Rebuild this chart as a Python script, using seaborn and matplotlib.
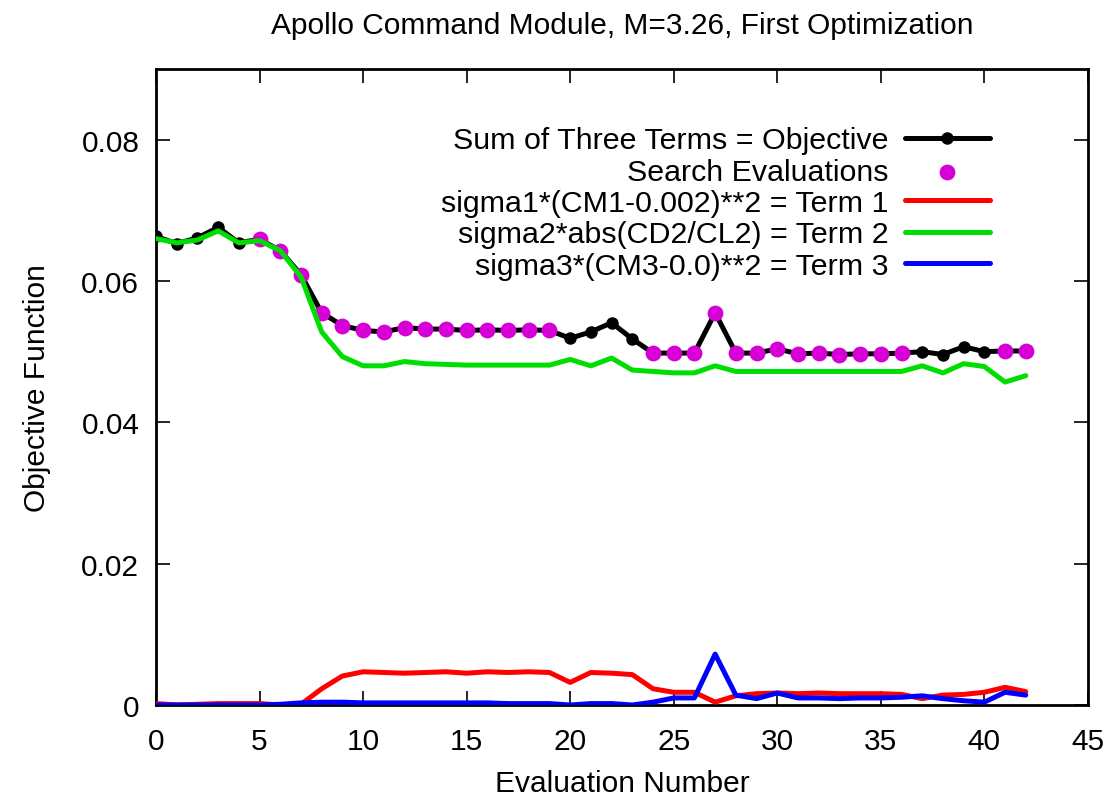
import matplotlib
matplotlib.use("Agg")
import matplotlib.pyplot as plt
import seaborn as sns
import pandas as pd

# values
evals = list(range(43))
objective = [0.0663, 0.0653, 0.0661, 0.0676, 0.0654, 0.0659, 0.0643, 0.0609, 0.0555, 0.0537,
             0.0530, 0.0528, 0.0534, 0.0532, 0.0532, 0.0530, 0.0531, 0.0530, 0.0531, 0.0530,
             0.0519, 0.0528, 0.0541, 0.0518, 0.0498, 0.0498, 0.0498, 0.0555, 0.0498, 0.0498,
             0.0504, 0.0497, 0.0498, 0.0496, 0.0497, 0.0497, 0.0498, 0.0500, 0.0496, 0.0507,
             0.0500, 0.0501, 0.0501]
term1 = [0.0002, 0.0000, 0.0001, 0.0002, 0.0002, 0.0002, 0.0000, 0.0001, 0.0023, 0.0041,
         0.0047, 0.0046, 0.0045, 0.0046, 0.0047, 0.0045, 0.0047, 0.0046, 0.0047, 0.0046,
         0.0032, 0.0046, 0.0045, 0.0043, 0.0023, 0.0018, 0.0018, 0.0004, 0.0013, 0.0016,
         0.0017, 0.0016, 0.0017, 0.0016, 0.0016, 0.0016, 0.0015, 0.0009, 0.0014, 0.0015,
         0.0018, 0.0025, 0.0019]
term2 = [0.0660, 0.0654, 0.0658, 0.0671, 0.0654, 0.0657, 0.0643, 0.0606, 0.0528, 0.0493,
         0.0480, 0.0480, 0.0486, 0.0483, 0.0482, 0.0481, 0.0481, 0.0481, 0.0481, 0.0481,
         0.0489, 0.0480, 0.0491, 0.0474, 0.0472, 0.0470, 0.0470, 0.0480, 0.0472, 0.0472,
         0.0472, 0.0472, 0.0472, 0.0472, 0.0472, 0.0472, 0.0472, 0.0480, 0.0470, 0.0483,
         0.0479, 0.0457, 0.0466]
term3 = [0.0000, 0.0000, 0.0000, 0.0000, 0.0000, 0.0000, 0.0001, 0.0003, 0.0004, 0.0004,
         0.0003, 0.0003, 0.0003, 0.0003, 0.0003, 0.0003, 0.0003, 0.0002, 0.0002, 0.0002,
         0.0000, 0.0002, 0.0002, 0.0000, 0.0004, 0.0010, 0.0010, 0.0072, 0.0014, 0.0009,
         0.0017, 0.0010, 0.0010, 0.0009, 0.0010, 0.0010, 0.0011, 0.0013, 0.0009, 0.0006,
         0.0004, 0.0018, 0.0014]
search_idx = list(range(5, 20)) + list(range(24, 37)) + [41, 42]

x_ticks = [0, 5, 10, 15, 20, 25, 30, 35, 40, 45]
y_ticks = [0, 0.02, 0.04, 0.06, 0.08]
y_tick_labels = ["0", "0.02", "0.04", "0.06", "0.08"]

df = pd.DataFrame({"eval": evals, "objective": objective,
                   "term1": term1, "term2": term2, "term3": term3})
search = df.loc[search_idx]

sns.set_style("ticks")
plt.rcParams['font.family'] = ['Liberation Sans', 'DejaVu Sans']
plt.rcParams['text.color'] = 'black'
plt.rcParams['axes.labelcolor'] = 'black'
plt.rcParams['xtick.color'] = 'black'
plt.rcParams['ytick.color'] = 'black'

fig = plt.figure(figsize=(11.16, 8.03), dpi=100)
ax = fig.add_axes([0.1398, 0.1208, 0.835, 0.792])

sns.lineplot(data=df, x="eval", y="objective", ax=ax, color="black", lw=3.6,
             marker="o", markersize=9, markeredgewidth=0,
             label="Sum of Three Terms = Objective")
sns.scatterplot(data=search, x="eval", y="objective", ax=ax, color="#d600d6",
                s=130, linewidth=0, zorder=3, label="Search Evaluations")
sns.lineplot(data=df, x="eval", y="term1", ax=ax, color="#ff0000", lw=3.6,
             zorder=4, label="sigma1*(CM1-0.002)**2 = Term 1")
sns.lineplot(data=df, x="eval", y="term2", ax=ax, color="#00dd00", lw=3.6,
             zorder=4, label="sigma2*abs(CD2/CL2) = Term 2")
sns.lineplot(data=df, x="eval", y="term3", ax=ax, color="#0000ff", lw=3.6,
             zorder=4, label="sigma3*(CM3-0.0)**2 = Term 3")

ax.set_xlim(0, 45)
ax.set_ylim(0, 0.09)
ax.set_xticks(x_ticks)
ax.set_yticks(y_ticks)
ax.set_yticklabels(y_tick_labels)
ax.tick_params(axis="x", pad=16)
ax.tick_params(direction="in", top=True, right=True, length=10, width=1.2,
               labelsize=21.5)
ax.tick_params(axis="y", pad=12)
for s in ax.spines.values():
    s.set_linewidth(2)
    s.set_color("black")

ax.set_title("Apollo Command Module, M=3.26, First Optimization", fontsize=21.5, pad=26)
ax.set_xlabel("Evaluation Number", fontsize=21.5, labelpad=10)
ax.set_ylabel("Objective Function", fontsize=21.5, labelpad=22)

leg = ax.legend(loc="upper right", bbox_to_anchor=(0.895, 0.91), markerfirst=False,
                frameon=False, fontsize=21.9, handlelength=2.8, handletextpad=0.55,
                labelspacing=0.11, borderpad=0, borderaxespad=0)

plt.savefig("out.png", dpi=100)
